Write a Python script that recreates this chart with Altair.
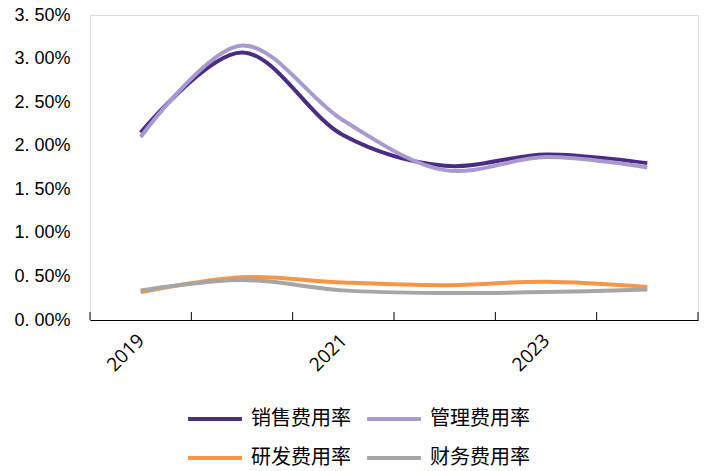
import altair as alt
import pandas as pd

years = [2019, 2020, 2021, 2022, 2023, 2024]
series_names = ["销售费用率", "管理费用率", "研发费用率", "财务费用率"]
sales = [0.0215, 0.0307, 0.0212, 0.0177, 0.0190, 0.0180]
admin = [0.0210, 0.0315, 0.0229, 0.0172, 0.0187, 0.0175]
rnd = [0.0032, 0.0049, 0.0043, 0.0040, 0.0044, 0.0038]
fin = [0.0034, 0.0046, 0.0034, 0.0031, 0.0032, 0.0035]
colors = ["#4B2C85", "#A899CF", "#F79646", "#A6A6A6"]
tick_values = [2018.5, 2019.5, 2020.5, 2021.5, 2022.5, 2023.5, 2024.5]
shown_labels = [2019, 2021, 2023]

rows = []
for name, vals in zip(series_names, [sales, admin, rnd, fin]):
    for y, v in zip(years, vals):
        rows.append({"year": y, "rate": v, "series": name})
df = pd.DataFrame(rows)
ticks_df = pd.DataFrame({"pos": tick_values})

xscale = alt.Scale(domain=[2018.5, 2024.5], nice=False, zero=False)

lines = alt.Chart(df).mark_line(interpolate="catmull-rom", strokeWidth=4).encode(
    x=alt.X("year:Q", scale=xscale,
            axis=alt.Axis(values=shown_labels, title=None, grid=False, ticks=False,
                          format="d", labelAngle=-45, labelAlign="right", labelBaseline="middle",
                          labelOverlap=False, labelFlush=False,
                          labelFont="Open Sans", labelFontSize=19, labelColor="#000",
                          labelPadding=17,
                          domainColor="#000", domainWidth=1.2)),
    y=alt.Y("rate:Q",
            scale=alt.Scale(domain=[0, 0.035], nice=False),
            axis=alt.Axis(values=[0, 0.005, 0.01, 0.015, 0.02, 0.025, 0.03, 0.035],
                          title=None, grid=False, domain=False, ticks=False,
                          labelExpr="replace(format(datum.value, '.2%'), '.', '. ')",
                          labelFont="Liberation Sans", labelFontSize=18, labelColor="#000",
                          labelPadding=20)),
    color=alt.Color("series:N",
                    scale=alt.Scale(domain=series_names, range=colors),
                    sort=series_names,
                    legend=alt.Legend(title=None, orient="none", legendX=96, legendY=375,
                                      columns=2, direction="horizontal",
                                      symbolType="stroke", symbolSize=2900,
                                      symbolStrokeWidth=4, labelFont="Noto Sans CJK SC",
                                      labelFontSize=20, labelColor="#000", labelOffset=7,
                                      columnPadding=8, rowPadding=-14, padding=0)),
)

tick_marks = alt.Chart(ticks_df).mark_rule(color="#000", strokeWidth=1).encode(
    x=alt.X("pos:Q", scale=xscale),
    y=alt.value(297),
    y2=alt.value(305),
)

chart = alt.layer(lines, tick_marks).properties(
    width=608, height=305,
    autosize=alt.AutoSizeParams(type="none"),
    padding={"left": 90, "top": 15, "right": 12, "bottom": 151},
).configure_view(stroke=None).configure(background="white")

chart.save("out.html", embed_options={"renderer": "svg", "actions": False})
